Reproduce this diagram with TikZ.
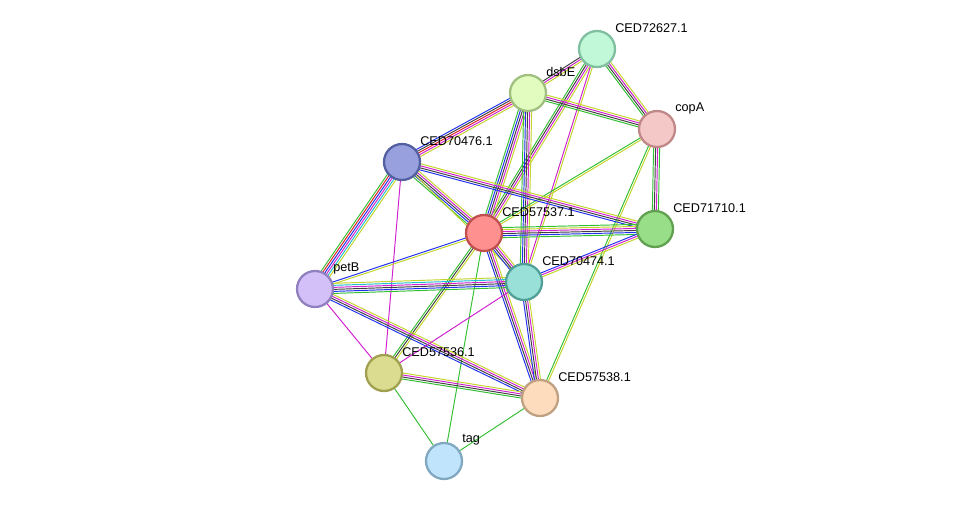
\documentclass[tikz,border=0pt]{standalone}
\usepackage{fontspec}
\setmainfont{Liberation Sans}
\usetikzlibrary{calc}
\definecolor{eG}{HTML}{33C033}
\definecolor{eY}{HTML}{C4D42A}
\definecolor{eK}{HTML}{404040}
\definecolor{eM}{HTML}{D020D0}
\definecolor{eB}{HTML}{2030F0}
\definecolor{eC}{HTML}{20C0D0}
\definecolor{eR}{HTML}{E02020}
\newcommand\edg[3]{%
  \foreach \cc [count=\ii] in {#3} {%
    \pgfmathsetmacro\oo{(\ii-(#2+1)/2)*1.15}%
    \draw[\cc, line width=0.55pt] ($(#1)!\oo pt!90:(#2)$) -- ($(#2)!\oo pt!-90:(#1)$);
  }}
\newcommand\ed[3]{%
  \edef\nn{0}\foreach \cc in {#3} {\xdef\nn{\the\numexpr\nn+1\relax}}%
  \foreach \cc [count=\ii] in {#3} {%
    \pgfmathsetmacro\oo{(\ii-(\nn+1)/2)*1.15}%
    \draw[\cc, line width=0.55pt] ($(#1.center)!\oo pt!90:(#2.center)$) -- ($(#2.center)!\oo pt!-90:(#1.center)$);
  }}
\tikzset{
  prot/.style={circle, minimum size=0.72cm, inner sep=0pt, line width=1.3pt},
  lbl/.style={anchor=west, font=\fontsize{7.2pt}{8pt}\selectfont, inner sep=0pt}
}
\begin{document}
\begin{tikzpicture}[x=0.02cm,y=-0.02cm]
\useasboundingbox[fill=white] (0,0) rectangle (976,507);
\coordinate (p72) at (597,49);
\coordinate (pds) at (528,93);
\coordinate (pcA) at (657,129);
\coordinate (p76) at (402,162);
\coordinate (p37) at (484,233);
\coordinate (p10) at (655,229);
\coordinate (ppB) at (315,289);
\coordinate (p74) at (524,282);
\coordinate (p36) at (384,373);
\coordinate (p38) at (540,398);
\coordinate (ptg) at (444,461);
% nodes placed first (empty) to get names; drawn later on top
\path (p72) node[prot] (n72) {} (pds) node[prot] (nds) {} (pcA) node[prot] (ncA) {}
 (p76) node[prot] (n76) {} (p37) node[prot] (n37) {} (p10) node[prot] (n10) {}
 (ppB) node[prot] (npB) {} (p74) node[prot] (n74) {} (p36) node[prot] (n36) {}
 (p38) node[prot] (n38) {} (ptg) node[prot] (ntg) {};
\ed{n72}{nds}{eK,eM,eY}
\ed{n72}{ncA}{eG,eK,eM,eY}
\ed{n72}{n37}{eG,eK,eM,eY}
\ed{n72}{n74}{eM,eY}
\ed{nds}{ncA}{eG,eK,eM,eY}
\ed{nds}{n76}{eB,eK,eR,eM,eY}
\ed{nds}{n37}{eG,eB,eK,eM,eY}
\ed{nds}{n74}{eG,eB,eK,eM,eY}
\ed{ncA}{n10}{eG,eK,eM,eG}
\ed{ncA}{n37}{eG,eY}
\ed{ncA}{n38}{eG,eY}
\ed{n76}{n37}{eG,eB,eK,eM,eY}
\ed{n76}{n10}{eB,eK,eM,eY}
\ed{n76}{npB}{eG,eR,eB,eM,eC,eY}
\ed{n76}{n36}{eM}
\ed{n76}{n74}{eY}
\ed{n37}{n10}{eG,eB,eK,eM,eY,eG}
\ed{n37}{npB}{eB,eY}
\ed{n37}{n74}{eB,eK,eM,eY}
\ed{n37}{n36}{eG,eK,eY}
\ed{n37}{n38}{eB,eK,eM,eY}
\ed{n37}{ntg}{eG}
\ed{n10}{n74}{eB,eM,eY}
\ed{npB}{n74}{eG,eB,eK,eM,eC,eY}
\ed{npB}{n36}{eM}
\ed{npB}{n38}{eB,eK,eM,eY}
\ed{n74}{n36}{eM}
\ed{n74}{n38}{eB,eK,eM,eY}
\ed{n36}{n38}{eG,eK,eM,eY}
\ed{n36}{ntg}{eG}
\ed{n38}{ntg}{eG}
\node[prot, fill={rgb,255:red,192;green,248;blue,216}, draw={rgb,255:red,128;green,192;blue,160}] at (p72) {};
\node[prot, fill={rgb,255:red,226;green,252;blue,192}, draw={rgb,255:red,160;green,192;blue,128}] at (pds) {};
\node[prot, fill={rgb,255:red,245;green,200;blue,200}, draw={rgb,255:red,192;green,136;blue,136}] at (pcA) {};
\node[prot, fill={rgb,255:red,152;green,160;blue,221}, draw={rgb,255:red,85;green,96;blue,160}] at (p76) {};
\node[prot, fill={rgb,255:red,255;green,144;blue,144}, draw={rgb,255:red,192;green,80;blue,80}] at (p37) {};
\node[prot, fill={rgb,255:red,152;green,221;blue,136}, draw={rgb,255:red,96;green,160;blue,80}] at (p10) {};
\node[prot, fill={rgb,255:red,212;green,192;blue,248}, draw={rgb,255:red,144;green,128;blue,192}] at (ppB) {};
\node[prot, fill={rgb,255:red,152;green,224;blue,216}, draw={rgb,255:red,80;green,160;blue,152}] at (p74) {};
\node[prot, fill={rgb,255:red,220;green,220;blue,144}, draw={rgb,255:red,160;green,160;blue,80}] at (p36) {};
\node[prot, fill={rgb,255:red,252;green,220;blue,188}, draw={rgb,255:red,192;green,160;blue,128}] at (p38) {};
\node[prot, fill={rgb,255:red,192;green,228;blue,252}, draw={rgb,255:red,128;green,168;blue,192}] at (ptg) {};
\node[lbl] (l72) at ($(p72)+(18,-21)$) {CED72627.1};
\node[lbl] (lds) at ($(pds)+(18,-21)$) {dsbE};
\node[lbl] (lcA) at ($(pcA)+(18,-21)$) {copA};
\node[lbl] (l76) at ($(p76)+(18,-21)$) {CED70476.1};
\node[lbl] (l37) at ($(p37)+(18,-21)$) {CED57537.1};
\node[lbl] (l10) at ($(p10)+(18,-21)$) {CED71710.1};
\node[lbl] (lpB) at ($(ppB)+(18,-21)$) {petB};
\node[lbl] (l74) at ($(p74)+(18,-21)$) {CED70474.1};
\node[lbl] (l36) at ($(p36)+(18,-21)$) {CED57536.1};
\node[lbl] (l38) at ($(p38)+(18,-21)$) {CED57538.1};
\node[lbl] (ltg) at ($(ptg)+(18,-21)$) {tag};
\end{tikzpicture}
\end{document}
